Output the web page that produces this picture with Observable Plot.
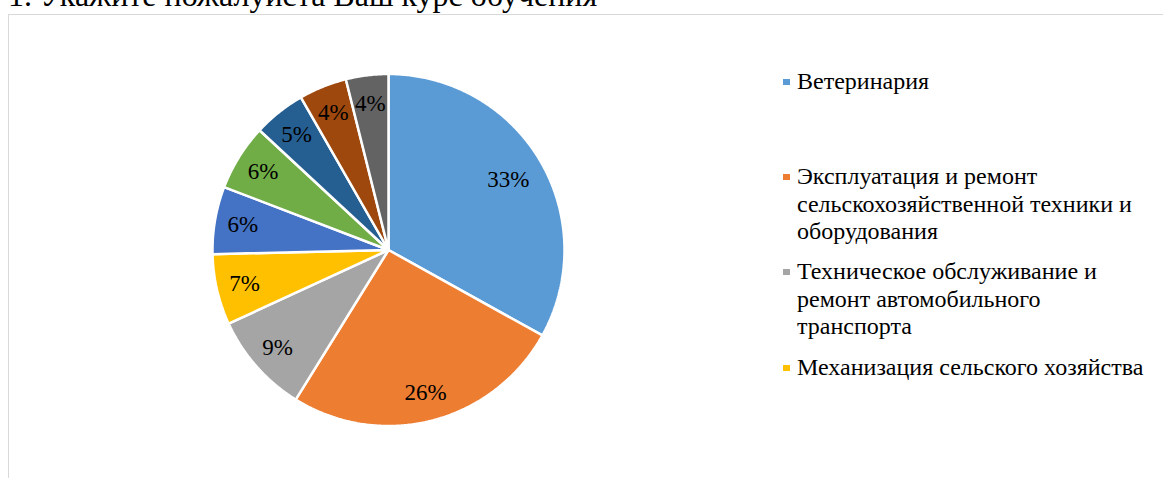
<!DOCTYPE html>
<html>
<head>
<meta charset="utf-8">
<script src="https://cdn.jsdelivr.net/npm/d3@7"></script>
<script src="https://cdn.jsdelivr.net/npm/@observablehq/plot@0.6"></script>
<style>
  html, body { margin: 0; padding: 0; background: #fff; overflow: hidden; }
  #wrap { position: relative; width: 1163px; height: 478px; overflow: hidden; }
  #frame { position: absolute; left: 8px; top: 14px; width: 1200px; height: 470px; border: 1px solid #d9d9d9; box-sizing: border-box; }
  #title { position: absolute; left: 8px; top: -21px; font-family: "Liberation Serif", "Times New Roman", serif; font-size: 32px; line-height: 32px; white-space: nowrap; color: #000; }
  #chart { position: absolute; left: 0; top: 0; }
  .leg { position: absolute; left: 797px; font-family: "Liberation Serif", "Times New Roman", serif; font-size: 24px; line-height: 27.5px; color: #000; white-space: nowrap; }
  .sw { position: absolute; left: -14px; top: 11px; width: 7px; height: 6px; }
</style>
</head>
<body>
<div id="wrap">
  <div id="frame"></div>
  <div id="title"></div>
  <div id="chart"></div>
  <div id="legend"></div>
</div>
<script>
const titleText = "1. Укажите пожалуйста Ваш курс обучения";
const categories = [
  "Ветеринария",
  "Эксплуатация и ремонт сельскохозяйственной техники и оборудования",
  "Техническое обслуживание и ремонт автомобильного транспорта",
  "Механизация сельского хозяйства",
  "Категория 5",
  "Категория 6",
  "Категория 7",
  "Категория 8",
  "Категория 9"
];
const values = [33.1, 25.8, 9.3, 6.5, 6.2, 6.1, 4.8, 4.4, 3.9];
const pctLabels = ["33%", "26%", "9%", "7%", "6%", "6%", "5%", "4%", "4%"];
const colors = ["#5B9BD5", "#ED7D31", "#A5A5A5", "#FFC000", "#4472C4", "#70AD47", "#255E91", "#9E480E", "#636363"];
// legend as shown (wrapped lines), only first four entries visible in the reference
const legendLines = [
  ["Ветеринария"],
  ["Эксплуатация и ремонт", "сельскохозяйственной техники и", "оборудования"],
  ["Техническое обслуживание и", "ремонт автомобильного", "транспорта"],
  ["Механизация сельского хозяйства"]
];

document.getElementById("title").textContent = titleText;

const rows = categories.map((c, i) => ({cat: c, value: values[i], label: pctLabels[i]}));
const arcs = d3.pie().sort(null).value(d => d.value)(rows);

// build slice polygons (geometry derived from the values)
const poly = [];
arcs.forEach(a => {
  poly.push({cat: a.data.cat, x: 0, y: 0});
  const n = Math.max(2, Math.ceil((a.endAngle - a.startAngle) / (Math.PI / 360)));
  for (let k = 0; k <= n; k++) {
    const t = a.startAngle + (a.endAngle - a.startAngle) * k / n;
    poly.push({cat: a.data.cat, x: Math.sin(t), y: Math.cos(t)});
  }
  poly.push({cat: a.data.cat, x: 0, y: 0});
});
const labelPts = arcs.map(a => {
  const m = (a.startAngle + a.endAngle) / 2;
  const r = a.data.value > 30 ? 0.79 : 0.84;
  return {label: a.data.label, x: r * Math.sin(m), y: r * Math.cos(m)};
});

const cx = 388, cy = 249.5, R = 176, W = 1163, H = 478;
const plot = Plot.plot({
  width: W,
  height: H,
  marginLeft: cx - R,
  marginRight: W - (cx + R),
  marginTop: cy - R,
  marginBottom: H - (cy + R),
  x: {domain: [-1, 1], axis: null},
  y: {domain: [-1, 1], axis: null},
  color: {domain: categories, range: colors},
  style: {background: "transparent", overflow: "visible"},
  marks: [
    Plot.line(poly, {x: "x", y: "y", z: "cat", fill: "cat", stroke: "white", strokeWidth: 2.5, strokeLinejoin: "miter", curve: "linear"}),
    Plot.text(labelPts, {x: "x", y: "y", text: "label", fontSize: 23, fontFamily: "Liberation Serif, Times New Roman, serif", fill: "black"})
  ]
});
document.getElementById("chart").appendChild(plot);

const centers = [82, 177, 272, 368];
const legend = document.getElementById("legend");
legendLines.forEach((lines, i) => {
  const d = document.createElement("div");
  d.className = "leg";
  d.style.top = (centers[i] - 13.75) + "px";
  d.innerHTML = lines.map(l => `<div>${l}</div>`).join("");
  const sw = document.createElement("span");
  sw.className = "sw";
  sw.style.background = colors[i];
  d.appendChild(sw);
  legend.appendChild(d);
});
</script>
</body>
</html>
